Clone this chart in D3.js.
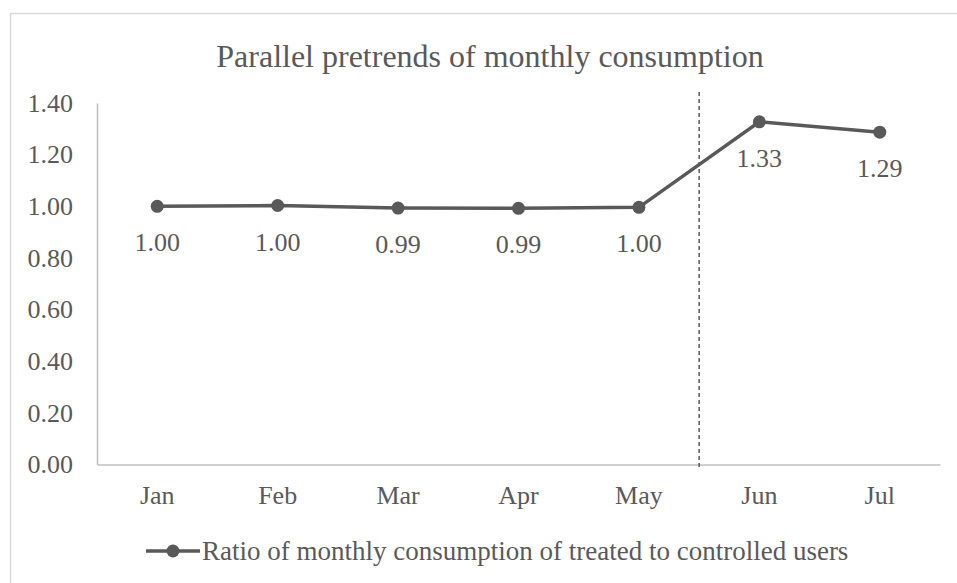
<!DOCTYPE html>
<html><head><meta charset="utf-8">
<script src="https://cdn.jsdelivr.net/npm/d3@7"></script>
<style>body{margin:0;background:#fff}svg{display:block}
svg text{font-family:"Liberation Serif","Times New Roman","DejaVu Serif",serif;fill:#595959}</style>
</head><body>
<svg id="c" width="957" height="583"></svg>
<script>
const months = ["Jan","Feb","Mar","Apr","May","Jun","Jul"];
const ratios = [1.000, 1.003, 0.993, 0.992, 0.996, 1.327, 1.287];
const yTicks = [0, 0.2, 0.4, 0.6, 0.8, 1.0, 1.2, 1.4];
const seriesName = "Ratio of monthly consumption of treated to controlled users";
const title = "Parallel pretrends of monthly consumption";
const treatmentAfter = "May";

const svg = d3.select("#c");
const m = {l:97, r:940, t:103, b:464.5};

svg.append("rect").attr("x",10.5).attr("y",13.5).attr("width",980).attr("height",600)
  .attr("fill","#fff").attr("stroke","#d9d9d9").attr("stroke-width",1.5);

const x = d3.scaleBand().domain(months).range([m.l,m.r]);
const y = d3.scaleLinear().domain([0,1.4]).range([m.b,m.t]);

svg.append("text").attr("x",490).attr("y",67).attr("text-anchor","middle")
  .style("font-size","32px").text(title);

const ya = svg.append("g").attr("transform",`translate(${m.l},0)`)
  .call(d3.axisLeft(y).tickValues(yTicks).tickFormat(d3.format(".2f")).tickSize(0).tickPadding(24));
ya.select(".domain").attr("stroke","#bfbfbf").attr("stroke-width",1.5);
ya.selectAll("text").style("font-size","26px");

const xa = svg.append("g").attr("transform",`translate(0,${m.b})`)
  .call(d3.axisBottom(x).tickSize(0).tickPadding(21));
xa.select(".domain").attr("stroke","#bfbfbf").attr("stroke-width",1.5);
xa.selectAll("text").style("font-size","26px");
ya.attr("font-family",null); xa.attr("font-family",null);

const sx = x(treatmentAfter) + x.bandwidth();
svg.append("line").attr("x1",sx).attr("x2",sx).attr("y1",92).attr("y2",m.b+3)
  .attr("stroke","#404040").attr("stroke-width",1.3).attr("stroke-dasharray","4,3");

const cx = d => x(d) + x.bandwidth()/2;
const data = months.map((mo,i)=>({mo, v:ratios[i]}));
svg.append("path").datum(data)
  .attr("d", d3.line().x(d=>cx(d.mo)).y(d=>y(d.v)))
  .attr("fill","none").attr("stroke","#595959").attr("stroke-width",3.5);
svg.selectAll("circle.pt").data(data).join("circle").attr("class","pt")
  .attr("cx",d=>cx(d.mo)).attr("cy",d=>y(d.v)).attr("r",6.5).attr("fill","#595959");
svg.selectAll("text.lbl").data(data).join("text").attr("class","lbl")
  .attr("x",d=>cx(d.mo)).attr("y",d=>y(d.v)+45).attr("text-anchor","middle")
  .style("font-size","26px").text(d=>d.v.toFixed(2));

const lg = svg.append("g").attr("transform","translate(146,551)");
lg.append("line").attr("x1",0).attr("x2",54).attr("y1",0).attr("y2",0)
  .attr("stroke","#595959").attr("stroke-width",3.5);
lg.append("circle").attr("cx",27).attr("cy",0).attr("r",6.5).attr("fill","#595959");
lg.append("text").attr("x",56).attr("y",9).style("font-size","27px").text(seriesName);
</script>
</body></html>
